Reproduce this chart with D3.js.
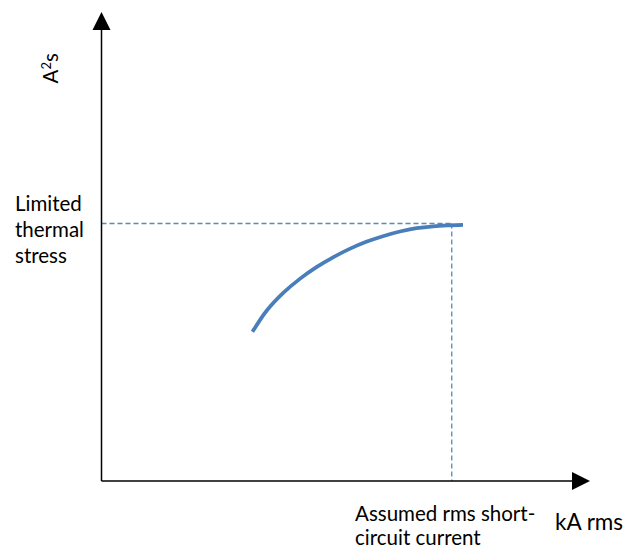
<!DOCTYPE html>
<html>
<head>
<meta charset="utf-8">
<script src="https://cdn.jsdelivr.net/npm/d3@7"></script>
<style>
  body { margin: 0; background: #fff; }
  text { font-family: Lato, "Open Sans", sans-serif; fill: #000; }
</style>
</head>
<body>
<div id="my_dataviz"></div>
<script>
// curve points (arbitrary units, axes run 0..100)
var current = [30.9, 33.8, 37.2, 40.6, 44.0, 47.4, 50.8, 54.2, 57.6, 61.1, 64.5, 67.9, 71.3, 74.0];
var stress  = [31.8, 36.3, 40.1, 43.1, 45.6, 47.7, 49.5, 51.0, 52.2, 53.2, 53.9, 54.3, 54.5, 54.6];

// the marked limit point (dashed guide lines)
var limitX = [71.7];
var limitY = [54.9];

var yLabelLines = ["Limited", "thermal", "stress"];
var xLabelLines = ["Assumed rms short-", "circuit current"];
var xUnit = "kA rms";

var width = 629, height = 550;

var svg = d3.select("#my_dataviz")
    .append("svg")
    .attr("width", width)
    .attr("height", height);

// scales: axes go from origin to arrow tip
var x = d3.scaleLinear().domain([0, 100]).range([101.5, 590]);
var y = d3.scaleLinear().domain([0, 100]).range([481, 12]);

var blue = "#4a7ebb";

// dashed guides
svg.append("line")
    .attr("x1", x(0)).attr("x2", x(limitX[0]))
    .attr("y1", y(limitY[0])).attr("y2", y(limitY[0]))
    .attr("stroke", "#5588c8").attr("stroke-width", 1.3)
    .attr("stroke-dasharray", "5,3");

svg.append("line")
    .attr("x1", x(limitX[0])).attr("x2", x(limitX[0]))
    .attr("y1", y(limitY[0])).attr("y2", y(0))
    .attr("stroke", "#5588c8").attr("stroke-width", 1.3)
    .attr("stroke-dasharray", "5,3");

// axes lines with arrow heads
var arrow = 18, half = 9;
svg.append("line")
    .attr("x1", x(0)).attr("x2", x(0))
    .attr("y1", y(0)).attr("y2", y(100) + arrow)
    .attr("stroke", "#000").attr("stroke-width", 1.5);
svg.append("line")
    .attr("x1", x(0)).attr("x2", x(100) - arrow)
    .attr("y1", y(0)).attr("y2", y(0))
    .attr("stroke", "#000").attr("stroke-width", 1.5);

svg.append("path")
    .attr("d", "M" + x(0) + "," + y(100) + "L" + (x(0) - half) + "," + (y(100) + arrow) + "L" + (x(0) + half) + "," + (y(100) + arrow) + "Z")
    .attr("fill", "#000");
svg.append("path")
    .attr("d", "M" + x(100) + "," + y(0) + "L" + (x(100) - arrow) + "," + (y(0) - half) + "L" + (x(100) - arrow) + "," + (y(0) + half) + "Z")
    .attr("fill", "#000");

// the curve
var line = d3.line()
    .x(function (d, i) { return x(current[i]); })
    .y(function (d, i) { return y(stress[i]); })
    .curve(d3.curveCatmullRom.alpha(0.5));

svg.append("path")
    .datum(current)
    .attr("d", line)
    .attr("fill", "none")
    .attr("stroke", blue)
    .attr("stroke-width", 3.75);

// labels
svg.append("g")
    .selectAll("text")
    .data(yLabelLines)
    .enter()
    .append("text")
    .attr("x", 15)
    .attr("y", function (d, i) { return 210.5 + i * 26.3; })
    .style("font-size", "20.5px")
    .text(function (d) { return d; });

svg.append("g")
    .selectAll("text")
    .data(xLabelLines)
    .enter()
    .append("text")
    .attr("x", 355)
    .attr("y", function (d, i) { return 521 + i * 23.5; })
    .style("font-size", "20.5px")
    .text(function (d) { return d; });

svg.append("text")
    .attr("x", 555)
    .attr("y", 530)
    .style("font-size", "22.5px")
    .text(xUnit);

// A²s, rotated
var yUnit = svg.append("text")
    .attr("transform", "translate(57.7,83.5) rotate(-90)")
    .style("font-size", "20.5px");
yUnit.append("tspan").text("A");
yUnit.append("tspan").attr("dy", -7).style("font-size", "13px").text("2");
yUnit.append("tspan").attr("dy", 7).text("s");
</script>
</body>
</html>
